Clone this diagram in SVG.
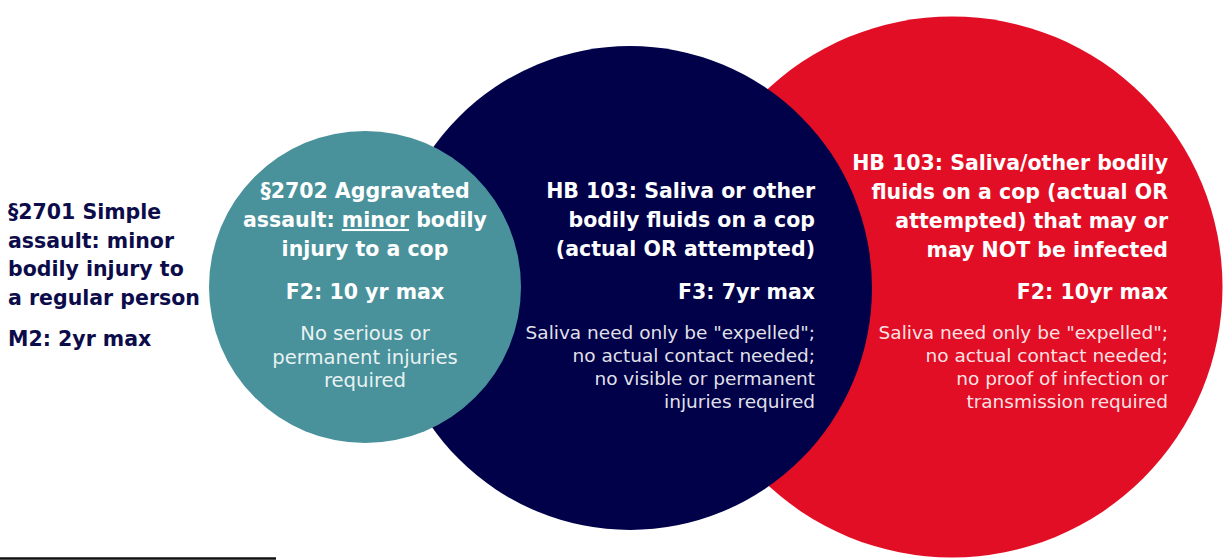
<svg xmlns="http://www.w3.org/2000/svg" width="1225" height="560" viewBox="0 0 1225 560">
<style>
.h{font-family:"DejaVu Sans","Liberation Sans",sans-serif;font-weight:700;font-size:20.5px;fill:#ffffff}
.b{font-family:"DejaVu Sans","Liberation Sans",sans-serif;font-weight:400;font-size:18.5px;fill:#ffffff;fill-opacity:0.9}
.t{font-size:19.6px}
.l{font-family:"DejaVu Sans","Liberation Sans",sans-serif;font-weight:700;font-size:20.5px;fill:#0c0c4a}
.m{text-anchor:middle}
.r{text-anchor:end}
</style>
<rect width="1225" height="560" fill="#ffffff"/>
<g id="red">
<circle cx="952" cy="287" r="270.5" fill="#e20e25"/>
</g>
<g id="navy">
<circle cx="630" cy="288" r="242" fill="#01014a"/>
</g>
<g id="teal">
<circle cx="365" cy="287" r="156" fill="#49929b"/>
</g>
<g id="left-label">
<text class="l" x="8" y="219">§2701 Simple</text>
<text class="l" x="8" y="248">assault: minor</text>
<text class="l" x="8" y="276">bodily injury to</text>
<text class="l" x="8" y="305">a regular person</text>
<text class="l" x="8" y="346">M2: 2yr max</text>
</g>
<g id="teal-text">
<text class="h m" x="365" y="198">§2702 Aggravated</text>
<text class="h m" x="365" y="227">assault: <tspan text-decoration="underline">minor</tspan> bodily</text>
<text class="h m" x="365" y="256">injury to a cop</text>
<text class="h m" x="365" y="299">F2: 10 yr max</text>
<text class="b t m" x="365" y="340">No serious or</text>
<text class="b t m" x="365" y="363.5">permanent injuries</text>
<text class="b t m" x="365" y="387">required</text>
</g>
<g id="navy-text">
<text class="h r" x="815" y="198">HB 103: Saliva or other</text>
<text class="h r" x="815" y="227">bodily fluids on a cop</text>
<text class="h r" x="815" y="256">(actual OR attempted)</text>
<text class="h r" x="815" y="299">F3: 7yr max</text>
<text class="b r" x="815" y="339">Saliva need only be "expelled";</text>
<text class="b r" x="815" y="362">no actual contact needed;</text>
<text class="b r" x="815" y="385">no visible or permanent</text>
<text class="b r" x="815" y="408">injuries required</text>
</g>
<g id="red-text">
<text class="h r" x="1168" y="170">HB 103: Saliva/other bodily</text>
<text class="h r" x="1168" y="199">fluids on a cop (actual OR</text>
<text class="h r" x="1168" y="228">attempted) that may or</text>
<text class="h r" x="1168" y="257">may NOT be infected</text>
<text class="h r" x="1168" y="299">F2: 10yr max</text>
<text class="b r" x="1168" y="339">Saliva need only be "expelled";</text>
<text class="b r" x="1168" y="362">no actual contact needed;</text>
<text class="b r" x="1168" y="385">no proof of infection or</text>
<text class="b r" x="1168" y="408">transmission required</text>
</g>
<line x1="0" y1="558.5" x2="276" y2="558.5" stroke="#111111" stroke-width="2.5"/>
</svg>
